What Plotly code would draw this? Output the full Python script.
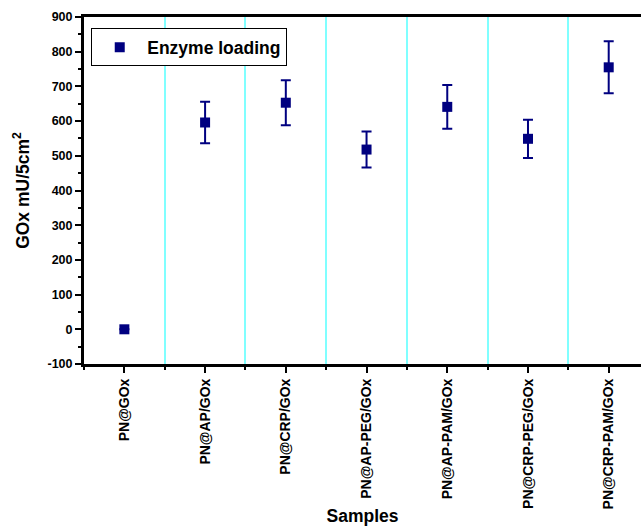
import plotly.graph_objects as go

samples = ["PN@GOx", "PN@AP/GOx", "PN@CRP/GOx", "PN@AP-PEG/GOx",
           "PN@AP-PAM/GOx", "PN@CRP-PEG/GOx", "PN@CRP-PAM/GOx"]
loading = [0, 596, 653, 518, 641, 549, 755]
error = [0, 60, 65, 52, 63, 55, 75]
y_ticks = [-100, 0, 100, 200, 300, 400, 500, 600, 700, 800, 900]
y_ticklabels = ["-100", "0", "100", "200", "300", "400", "500", "600", "700", "800", "900"]

positions = list(range(len(samples)))
navy = "#000080"
font_family = "Arial, Liberation Sans, sans-serif"

fig = go.Figure()
fig.add_trace(go.Scatter(
    x=positions, y=loading, mode="markers", name="Enzyme loading",
    marker=dict(symbol="square", size=10, color=navy),
    error_y=dict(type="data", array=error, visible=True, color=navy,
                 thickness=2, width=5),
))

fig.update_layout(
    width=641, height=527,
    margin=dict(l=84, r=0, t=17, b=163),
    paper_bgcolor="white", plot_bgcolor="white",
    font=dict(family=font_family, color="black"),
    showlegend=True,
    legend=dict(x=0.013, y=0.967, xanchor="left", yanchor="top",
                bordercolor="black", borderwidth=1, bgcolor="white",
                itemwidth=45,
                font=dict(size=17.5, weight="bold", family=font_family)),
)

fig.update_xaxes(
    range=[-0.5, 6.4],
    tickmode="array", tickvals=positions, ticktext=samples,
    tickangle=-90, tickfont=dict(size=14, weight="bold", family=font_family),
    ticks="outside", ticklen=6, tickwidth=2, tickcolor="black",
    showline=True, linecolor="black", linewidth=3, mirror=True,
    showgrid=False, zeroline=False,
    minor=dict(tick0=0.5, dtick=1, ticks="outside", ticklen=3, tickwidth=2,
               tickcolor="black", showgrid=True, gridcolor="#80FFFF",
               gridwidth=2),
    title=dict(text="Samples", font=dict(size=17.5, weight="bold", family=font_family),
               standoff=2),
)

fig.update_yaxes(
    range=[-100, 900], tickmode="array", tickvals=y_ticks, ticktext=y_ticklabels,
    tickfont=dict(size=12.5, weight="bold", family=font_family),
    ticks="outside", ticklen=6, tickwidth=2, tickcolor="black",
    showline=True, linecolor="black", linewidth=3,
    showgrid=False, zeroline=False,
    minor=dict(tickmode="linear", tick0=-50, dtick=100, ticks="outside", ticklen=3, tickwidth=2,
               tickcolor="black", showgrid=False),
    title=dict(text="GOx mU/5cm<sup>2</sup>",
               font=dict(size=17.5, weight="bold", family=font_family), standoff=14),
)

fig.write_html("out.html")
